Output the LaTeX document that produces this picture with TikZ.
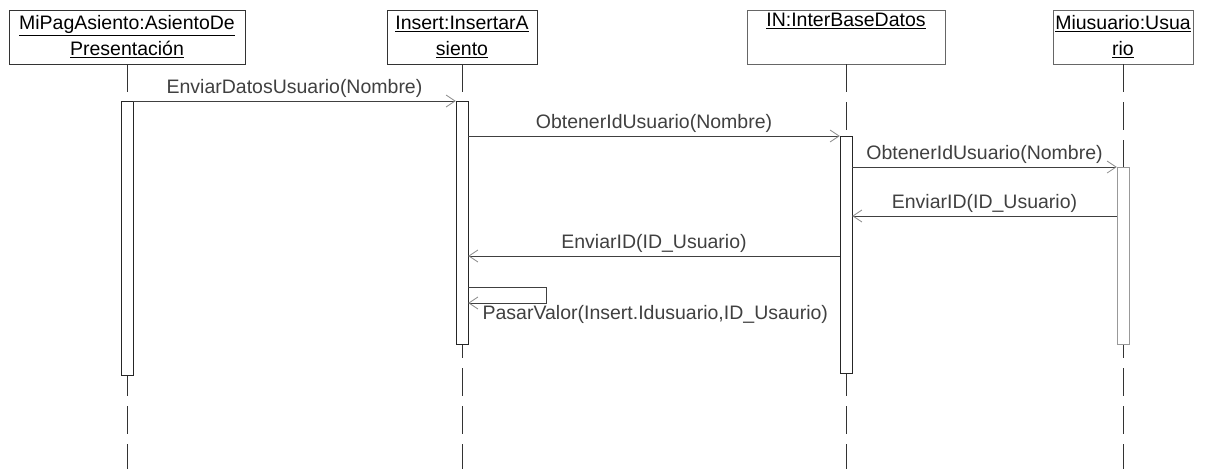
\documentclass[tikz,border=0pt]{standalone}
\usepackage{fontspec}
\setmainfont{Liberation Sans}
\usetikzlibrary{arrows.meta}

\tikzset{
  objbox/.style={draw=black!80, fill=white, minimum height=54pt, inner sep=0pt, align=center},
  lifeline/.style={black!80, line width=0.8pt, dash pattern=on 28pt off 10pt},
  actbar/.style={draw=black!85, fill=white, minimum width=12pt, inner sep=0pt, anchor=north},
  msg/.style={black!75, line width=0.8pt, -{Straight Barb[length=9pt,width=12pt,color=black!45]}},
  msglabel/.style={above, inner sep=3pt},
}

\begin{document}
\begin{tikzpicture}[x=1pt,y=-1pt,font=\fontsize{19.5}{26}\selectfont]
\useasboundingbox (0,0) rectangle (1221,469);

% objetos
\node[objbox, minimum width=236pt] (pag) at (127,37) {\underline{MiPagAsiento:AsientoDe}\\\underline{Presentación}};
\node[objbox, minimum width=150pt] (ins) at (462,37) {\underline{Insert:InsertarA}\\\underline{siento}};
\node[objbox, minimum width=198pt, draw=black!60] (inb) at (846,37) {\underline{IN:InterBaseDatos}\\\strut};
\node[objbox, minimum width=140pt, draw=black!60] (usr) at (1123,37) {\underline{Miusuario:Usua}\\\underline{rio}};

% lineas de vida
\foreach \o in {pag,ins,inb,usr}
  \draw[lifeline] (\o.south) -- (\o.south |- 0,469);

% activaciones
\node[actbar, minimum height=274pt] (actPag) at (127,101) {};
\node[actbar, minimum height=243pt] (actIns) at (462,101) {};
\node[actbar, minimum height=237pt] (actInb) at (846,136) {};
\node[actbar, minimum height=177pt, draw=black!40] (actUsr) at (1123,167) {};

% mensajes
\draw[msg] (actPag.north east) -- node[msglabel] {EnviarDatosUsuario(Nombre)} (actIns.north west);
\draw[msg] (actIns.east |- actInb.north) -- node[msglabel] {ObtenerIdUsuario(Nombre)} (actInb.north west);
\draw[msg] (actInb.east |- actUsr.north) -- node[msglabel] {ObtenerIdUsuario(Nombre)} (actUsr.north west);

\coordinate (r1) at (0,216);
\coordinate (r2) at (0,256);
\draw[msg] (actUsr.west |- r1) -- node[msglabel] {EnviarID(ID\_Usuario)} (actInb.east |- r1);
\draw[msg] (actInb.west |- r2) -- node[msglabel] {EnviarID(ID\_Usuario)} (actIns.east |- r2);

% auto-mensaje
\coordinate (s1) at (0,287);
\coordinate (s2) at (546,303);
\draw[msg] (actIns.east |- s1) -| (s2) -- (actIns.east |- s2)
  node[anchor=north west, xshift=12pt, inner sep=2pt] {PasarValor(Insert.Idusuario,ID\_Usaurio)};

\end{tikzpicture}
\end{document}
